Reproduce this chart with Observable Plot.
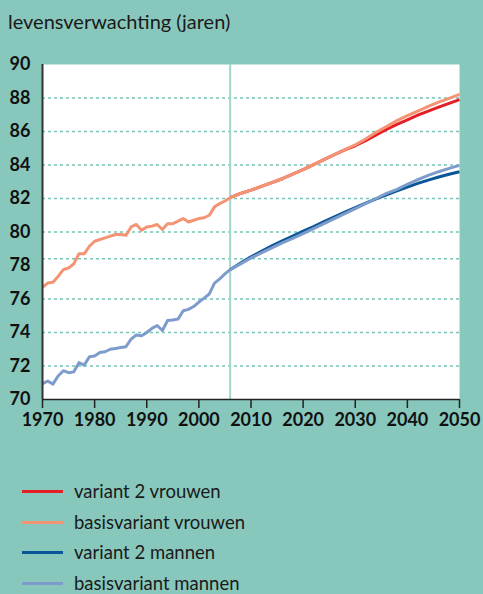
<!DOCTYPE html>
<html><head><meta charset="utf-8">
<script src="https://cdn.jsdelivr.net/npm/d3@7"></script>
<script src="https://cdn.jsdelivr.net/npm/@observablehq/plot@0.6"></script>
<style>
body{margin:0;background:#88c8bc;width:483px;height:594px;overflow:hidden;font-family:Lato,sans-serif;color:#1a1a1a;position:relative}
#title{position:absolute;left:8px;top:10px;font-size:20px;line-height:22px}
#chart{position:absolute;left:0;top:45px}
.item{position:absolute;left:0;height:22px;width:400px}
.sw{position:absolute;left:22px;top:10px;width:41px;height:3px}
.lab{position:absolute;left:74px;top:0;font-size:18.5px;line-height:22px}
</style></head><body>
<div id="title">levensverwachting (jaren)</div>
<div id="chart"></div>
<div id="legend"></div>
<script>
// historical years 1970-2006
const histYears = [1970,1971,1972,1973,1974,1975,1976,1977,1978,1979,1980,1981,1982,1983,1984,1985,1986,1987,1988,1989,1990,1991,1992,1993,1994,1995,1996,1997,1998,1999,2000,2001,2002,2003,2004,2005,2006];
const histWomen = [76.7,76.95,77.0,77.35,77.75,77.85,78.1,78.7,78.7,79.15,79.45,79.55,79.65,79.75,79.85,79.85,79.8,80.3,80.45,80.1,80.3,80.35,80.45,80.15,80.5,80.5,80.65,80.8,80.6,80.7,80.8,80.85,81.0,81.5,81.7,81.85,82.05];
const histMen = [70.95,71.1,70.92,71.4,71.72,71.6,71.65,72.2,72.05,72.55,72.6,72.8,72.85,73.0,73.05,73.1,73.15,73.6,73.85,73.8,74.0,74.25,74.42,74.12,74.72,74.75,74.8,75.3,75.38,75.55,75.82,76.05,76.3,76.95,77.2,77.5,77.75];
// projection years
const projYears = [2006,2008,2010,2012,2014,2016,2018,2020,2022,2024,2026,2028,2030,2032,2034,2036,2038,2040,2042,2044,2046,2048,2050];
const baseWomen = [82.05,82.3,82.5,82.72,82.95,83.18,83.45,83.72,84.02,84.32,84.62,84.92,85.2,85.55,85.95,86.3,86.65,86.95,87.22,87.5,87.75,87.98,88.22];
const var2Women = [82.05,82.3,82.5,82.72,82.95,83.18,83.45,83.72,84.02,84.32,84.62,84.9,85.15,85.45,85.8,86.12,86.42,86.7,86.98,87.22,87.45,87.68,87.9];
const baseMen = [77.75,78.1,78.45,78.75,79.05,79.35,79.62,79.9,80.2,80.5,80.8,81.1,81.4,81.7,82.0,82.3,82.55,82.85,83.12,83.38,83.6,83.8,83.98];
const var2Men = [77.75,78.15,78.52,78.85,79.17,79.47,79.75,80.05,80.32,80.62,80.9,81.18,81.45,81.72,81.98,82.22,82.45,82.68,82.9,83.1,83.28,83.45,83.6];

const xTicks = [1970,1980,1990,2000,2010,2020,2030,2040,2050];
const yTicks = [70,72,74,76,78,80,82,84,86,88,90];
const gridValues = [72,74,76,78.4,80,82,84,86,88];
const forecastStart = [2006];

const seriesNames = ["variant 2 vrouwen","basisvariant vrouwen","variant 2 mannen","basisvariant mannen"];
const seriesColors = ["#e41f26","#f39474","#0b5698","#7d9ccb"];

const rows = [];
function add(name, years, vals){ years.forEach((y,i)=>rows.push({series:name, year:y, value:vals[i]})); }
add(seriesNames[2], projYears, var2Men);
add(seriesNames[3], histYears, histMen);
add(seriesNames[3], projYears.slice(1), baseMen.slice(1));
add(seriesNames[0], projYears, var2Women);
add(seriesNames[1], histYears, histWomen);
add(seriesNames[1], projYears.slice(1), baseWomen.slice(1));

const chart = Plot.plot({
  width: 483, height: 390,
  marginTop: 19, marginBottom: 36, marginLeft: 42, marginRight: 24,
  style: {background: "transparent", fontFamily: "Lato, sans-serif", fontSize: "18px", fontWeight: "bold", color: "#111"},
  x: {domain: [1970, 2050]},
  y: {domain: [70, 90]},
  color: {domain: seriesNames, range: seriesColors},
  marks: [
    Plot.frame({fill: "white", stroke: "none"}),
    Plot.ruleY(gridValues, {stroke: "#74c6b6", strokeWidth: 1.5, strokeDasharray: "3,3"}),
    Plot.ruleX(forecastStart, {stroke: "#a2d6cc", strokeWidth: 2}),
    Plot.line(rows, {x: "year", y: "value", z: "series", stroke: "series", strokeWidth: 3, strokeLinejoin: "round", strokeLinecap: "butt"}),
    Plot.axisX({ticks: xTicks, tickFormat: d => String(d), tickSize: 9, tickPadding: 5, stroke: "#222", strokeWidth: 1.5, label: null}),
    Plot.axisY({ticks: yTicks, tickSize: 0, tickPadding: 12, label: null}),
    Plot.ruleY([70], {stroke: "#222", strokeWidth: 1.5}),
    Plot.ruleX([1970], {stroke: "#333", strokeWidth: 2})
  ]
});
document.getElementById("chart").appendChild(chart);

const legend = document.getElementById("legend");
const legendTops = [480, 510.5, 541, 571.5];
seriesNames.forEach((n, i) => {
  const it = document.createElement("div");
  it.className = "item";
  it.style.top = legendTops[i] + "px";
  it.innerHTML = `<div class="sw" style="background:${seriesColors[i]}"></div><div class="lab">${n}</div>`;
  legend.appendChild(it);
});
</script>
</body></html>
